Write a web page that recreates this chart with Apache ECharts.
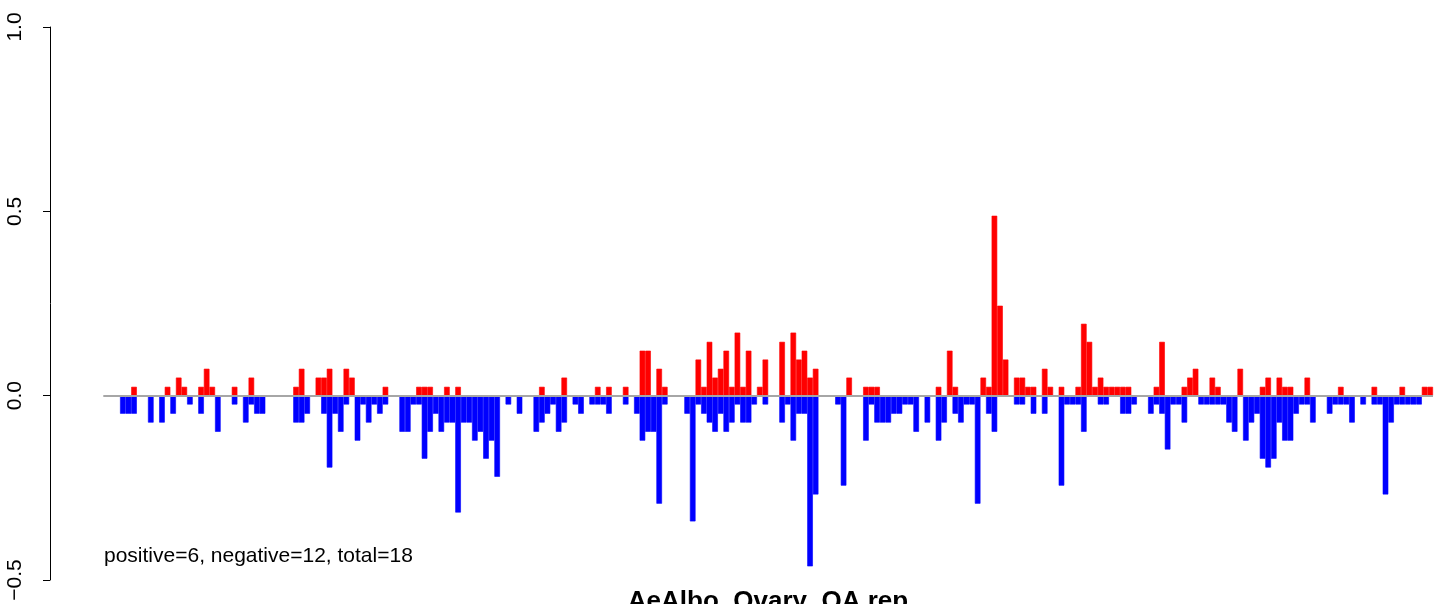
<!DOCTYPE html>
<html><head><meta charset="utf-8">
<script src="https://cdn.jsdelivr.net/npm/echarts@6/dist/echarts.min.js"></script>
<style>html,body{margin:0;padding:0;background:#fff}#c{width:1441px;height:604px}</style>
</head><body><div id="c"></div>
<script>
const positive = [
0,0,0,0,0,0.024,0,0,0,0,
0,0.024,0,0.049,0.024,0,0,0.024,0.073,0.024,
0,0,0,0.024,0,0,0.049,0,0,0,
0,0,0,0,0.024,0.073,0,0,0.049,0.049,
0.073,0,0,0.073,0.049,0,0,0,0,0,
0.024,0,0,0,0,0,0.024,0.024,0.024,0,
0,0.024,0,0.024,0,0,0,0,0,0,
0,0,0,0,0,0,0,0,0.024,0,
0,0,0.049,0,0,0,0,0,0.024,0,
0.024,0,0,0.024,0,0,0.122,0.122,0,0.073,
0.024,0,0,0,0,0,0.098,0.024,0.146,0.049,
0.073,0.122,0.024,0.171,0.024,0.122,0,0.024,0.098,0,
0,0.146,0,0.171,0.098,0.122,0.049,0.073,0,0,
0,0,0,0.049,0,0,0.024,0.024,0.024,0,
0,0,0,0,0,0,0,0,0,0.024,
0,0.122,0.024,0,0,0,0,0.049,0.024,0.488,
0.244,0.098,0,0.049,0.049,0.024,0.024,0,0.073,0.024,
0,0.024,0,0,0.024,0.195,0.146,0.024,0.049,0.024,
0.024,0.024,0.024,0.024,0,0,0,0,0.024,0.146,
0,0,0,0.024,0.049,0.073,0,0,0.049,0.024,
0,0,0,0.073,0,0,0,0.024,0.049,0,
0.049,0.024,0.024,0,0,0.049,0,0,0,0,
0,0.024,0,0,0,0,0,0.024,0,0,
0,0,0.024,0,0,0,0.024,0.024
];
const negative = [
0,0,0,-0.049,-0.049,-0.049,0,0,-0.073,0,
-0.073,0,-0.049,0,0,-0.024,0,-0.049,0,0,
-0.098,0,0,-0.024,0,-0.073,-0.024,-0.049,-0.049,0,
0,0,0,0,-0.073,-0.073,-0.049,0,0,-0.049,
-0.195,-0.049,-0.098,-0.024,0,-0.122,-0.024,-0.073,-0.024,-0.049,
-0.024,0,0,-0.098,-0.098,-0.024,-0.024,-0.171,-0.098,-0.049,
-0.098,-0.073,-0.073,-0.317,-0.073,-0.073,-0.122,-0.098,-0.171,-0.122,
-0.220,0,-0.024,0,-0.049,0,0,-0.098,-0.073,-0.049,
-0.024,-0.098,-0.073,0,-0.024,-0.049,0,-0.024,-0.024,-0.024,
-0.049,0,0,-0.024,0,-0.049,-0.122,-0.098,-0.098,-0.293,
-0.024,0,0,0,-0.049,-0.341,-0.024,-0.049,-0.073,-0.098,
-0.049,-0.098,-0.073,-0.024,-0.073,-0.073,-0.024,0,-0.024,0,
0,-0.073,-0.024,-0.122,-0.049,-0.049,-0.463,-0.268,0,0,
0,-0.024,-0.244,0,0,0,-0.122,-0.024,-0.073,-0.073,
-0.073,-0.049,-0.049,-0.024,-0.024,-0.098,0,-0.073,0,-0.122,
-0.073,0,-0.049,-0.073,-0.024,-0.024,-0.293,0,-0.049,-0.098,
0,0,0,-0.024,-0.024,0,-0.049,0,-0.049,0,
0,-0.244,-0.024,-0.024,-0.024,-0.098,0,0,-0.024,-0.024,
0,0,-0.049,-0.049,-0.024,0,0,-0.049,-0.024,-0.049,
-0.146,-0.024,-0.024,-0.073,0,0,-0.024,-0.024,-0.024,-0.024,
-0.024,-0.073,-0.098,0,-0.122,-0.073,-0.049,-0.171,-0.195,-0.171,
-0.073,-0.122,-0.122,-0.049,-0.024,-0.024,-0.073,0,0,-0.049,
-0.024,-0.024,-0.024,-0.073,0,-0.024,0,-0.024,-0.024,-0.268,
-0.073,-0.024,-0.024,-0.024,-0.024,-0.024,0,0
];
const categories = positive.map((_, i) => String(i + 1));
const yTickValues = [-0.5, 0, 0.5, 1.0];
const yTickLabels = ['\u22120.5', '0.0', '0.5', '1.0'];
const chartTitle = 'AeAlbo_Ovary_OA.rep';
const noteText = 'positive=6, negative=12, total=18';

const FONT = 'Liberation Sans, Arial, Helvetica, sans-serif';
const toBarData = arr => arr.map(v => (v === 0 ? '-' : v));
const chart = echarts.init(document.getElementById('c'), null, {renderer: 'canvas'});
chart.setOption({
  animation: false,
  backgroundColor: '#ffffff',
  grid: {left: 103.3, width: 1329.7, top: 27, height: 553, containLabel: false},
  xAxis: {type: 'category', data: categories, show: false, boundaryGap: true},
  yAxis: {
    type: 'value', min: -0.5, max: 1.0, interval: 0.5, offset: 53.3,
    axisLine: {show: true, lineStyle: {color: '#000', width: 1}},
    axisTick: {show: true, length: 7, lineStyle: {color: '#000', width: 1}},
    splitLine: {show: false},
    axisLabel: {
      rotate: 90, margin: 24, fontSize: 21, color: '#000', fontFamily: FONT,
      align: 'center', verticalAlign: 'bottom',
      formatter: v => { const k = yTickValues.findIndex(t => Math.abs(t - v) < 1e-9); return k >= 0 ? yTickLabels[k] : ''; }
    }
  },
  series: [
    {
      name: 'baseline', type: 'bar', data: [], z: 1,
      markLine: {silent: true, symbol: 'none', label: {show: false},
        lineStyle: {color: '#a6a6a6', width: 2, type: 'solid'}, data: [{yAxis: 0}]}
    },
    {name: 'positive', type: 'bar', data: toBarData(positive), z: 2, barGap: '-100%', barCategoryGap: '0%',
      itemStyle: {color: '#ff0000', borderColor: '#ff0000', borderWidth: 0.6}},
    {name: 'negative', type: 'bar', data: toBarData(negative), z: 2, barGap: '-100%', barCategoryGap: '0%',
      itemStyle: {color: '#0000ff', borderColor: '#0000ff', borderWidth: 0.6}}
  ],
  graphic: [
    {type: 'text', x: 104, y: 556, silent: true,
      style: {text: noteText, fontSize: 21, fontFamily: FONT, fill: '#000', align: 'left', verticalAlign: 'middle'}},
    {type: 'text', x: 768, y: 602, silent: true,
      style: {text: chartTitle, fontSize: 26, fontWeight: 'bold', fontFamily: FONT, fill: '#000', align: 'center', verticalAlign: 'middle'}}
  ]
});
</script></body></html>
